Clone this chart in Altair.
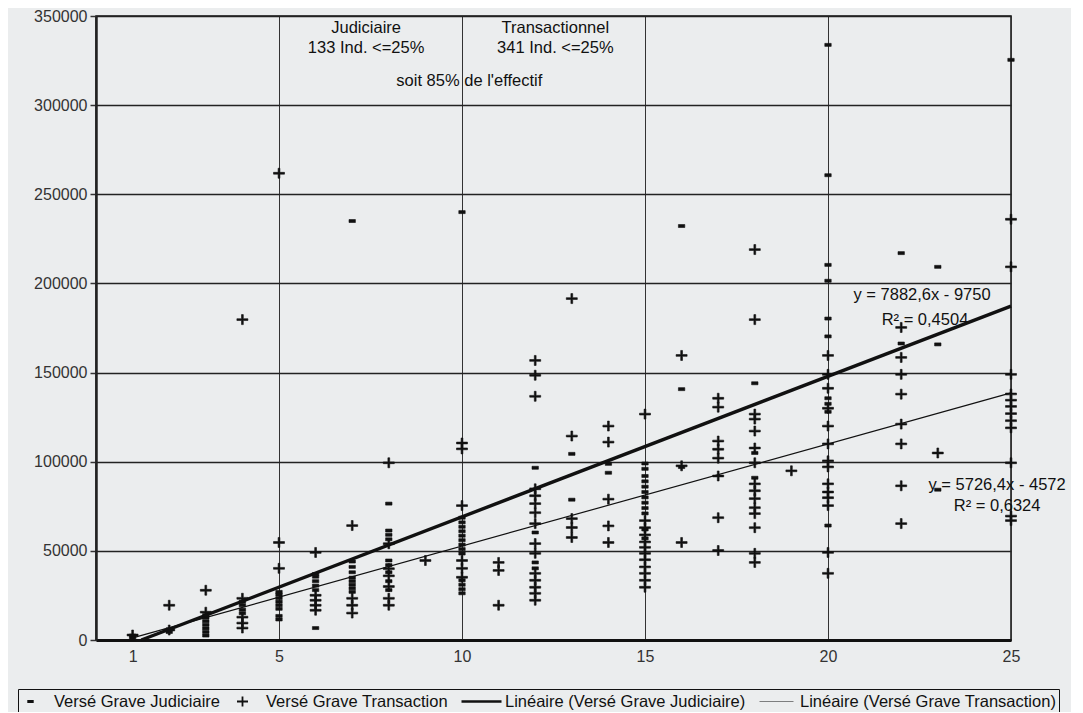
import altair as alt
import pandas as pd

FONT = "Liberation Sans"

SER_J = "Versé Grave Judiciaire"
SER_T = "Versé Grave Transaction"
LIN_J = "Linéaire (Versé Grave Judiciaire)"
LIN_T = "Linéaire (Versé Grave Transaction)"
series_names = [SER_J, SER_T, LIN_J, LIN_T]

# Versé Grave Judiciaire : taux (x) -> montants versés (y)
judiciaire = {
    1: [1000, 2500],
    2: [4500, 6000],
    3: [2500, 4500, 6500, 8500, 10500, 12500, 14000],
    4: [15000, 17000, 19500, 21500],
    5: [11500, 13500, 17500, 19500, 21500, 23500, 25500, 27000],
    6: [6700, 28000, 30500, 33000, 35500, 37000],
    7: [27000, 29000, 31000, 33000, 35000, 38000, 41000, 44000, 235000],
    8: [28000, 33000, 38000, 42000, 44600, 56500, 59000, 61400, 76500],
    10: [26200, 28500, 31000, 33500, 48500, 51000, 53500, 56000, 58500,
         61000, 63500, 66000, 68600, 240000],
    12: [40200, 43500, 60300, 96600],
    13: [78700, 104400],
    14: [93800, 98800],
    15: [57000, 62000, 71000, 74000, 77000, 80000, 83000, 86000, 89000,
         92000, 96000, 99000],
    16: [97000, 140700, 232200],
    18: [91000, 104900, 144000],
    20: [64200, 128000, 132500, 135600, 170300, 180300, 201500, 210400,
         260700, 333800],
    22: [166300, 217000],
    23: [84300, 165800, 209300],
    25: [325400],
}

# Versé Grave Transaction
transaction = {
    1: [2800],
    2: [5600, 19500],
    3: [15600, 27900],
    4: [6700, 9500, 12800, 23400, 179700],
    5: [40200, 54700, 261800],
    6: [16700, 19500, 22300, 25100, 49100],
    7: [15100, 19500, 23400, 64200],
    8: [19500, 23400, 30000, 36000, 40000, 54000, 99400],
    9: [44600],
    10: [35200, 40200, 44600, 75400, 107200, 110500],
    11: [19500, 39000, 43500],
    12: [22300, 26200, 29600, 33500, 37400, 48600, 54100, 65300, 71400,
         76500, 80900, 84800, 136700, 148500, 156800],
    13: [57500, 63100, 68100, 114400, 191500],
    14: [54700, 64000, 79000, 111000, 120000],
    15: [29600, 33500, 37400, 41000, 45000, 48600, 52000, 55000, 59000,
         63000, 67000, 126700],
    16: [54700, 97700, 159600],
    17: [50200, 68600, 92000, 102000, 107000, 111600, 130600, 135600],
    18: [43500, 48600, 63000, 70900, 74200, 79300, 83700, 87600, 99400,
         107700, 117200, 123900, 126700, 179700, 219000],
    19: [94900],
    20: [37400, 49100, 75400, 79800, 83000, 87600, 97100, 100500, 110000,
         120000, 130000, 141200, 149000, 159600],
    22: [65300, 86500, 110000, 121100, 137900, 149000, 158500, 175300],
    23: [104900],
    25: [67000, 69500, 99400, 119000, 123000, 127000, 131000, 134500,
         138000, 149000, 209300, 236000],
}

# Droites de régression (équations affichées sur le graphique)
reg_series = [LIN_J, LIN_T]
reg_slope = [7882.6, 5726.4]
reg_intercept = [-9750.0, -4572.0]
reg_x_end = 25.0

# Annotations
ann_text = ["Judiciaire", "133 Ind.  <=25%", "Transactionnel", "341 Ind.  <=25%",
            "soit 85% de l'effectif",
            "y = 7882,6x - 9750", "R² = 0,4504",
            "y = 5726,4x - 4572", "R² = 0,6324"]
ann_x = [7.38, 7.38, 12.55, 12.55, 10.2, 22.57, 22.65, 24.62, 24.62]
ann_y = [343300, 332200, 343300, 332200, 313700, 193700, 179700, 87100, 75400]

# ---------- tables ----------
rows = []
for x, ys in judiciaire.items():
    for y in ys:
        rows.append({"x": x, "y": y, "series": SER_J})
for x, ys in transaction.items():
    for y in ys:
        rows.append({"x": x, "y": y, "series": SER_T})
points = pd.DataFrame(rows)

line_rows = []
for name, a, b, w in zip(reg_series, reg_slope, reg_intercept, [3.4, 1.2]):
    x0 = max(1.0, -b / a)
    for xv in (x0, reg_x_end):
        line_rows.append({"x": xv, "y": a * xv + b, "series": name, "sw": w})
lines = pd.DataFrame(line_rows)

ann = pd.DataFrame({"text": ann_text, "x": ann_x, "y": ann_y})

# ---------- scales / axes ----------
W, H = 915, 624
xscale = alt.Scale(domain=[0, 25], nice=False, zero=False)
yscale = alt.Scale(domain=[0, 350000], nice=False)

xaxis = alt.Axis(
    values=[1, 5, 10, 15, 20, 25], title=None, ticks=False,
    labelFont=FONT, labelFontSize=16, labelColor="#333", labelPadding=8,
    labelFlush=False, domainColor="#111", domainWidth=3,
    grid=True, gridWidth=1,
    gridColor={"condition": {"test": "datum.value == 1", "value": "transparent"},
               "value": "#333"},
)
yaxis = alt.Axis(
    values=list(range(0, 350001, 50000)), format="d", title=None,
    labelFont=FONT, labelFontSize=16, labelColor="#333", labelPadding=3,
    labelFlush=False, tickSize=6, tickColor="#333", tickWidth=1.5,
    domainColor="#222", domainWidth=2.5,
    grid=True, gridColor="#222", gridWidth=1.5,
)

# filled symbol paths (unit box scaled by sqrt(size)/2 = 10 px)
DASH = "M-0.32,-0.15H0.32V0.15H-0.32Z"
CROSS = ("M-0.55,-0.09H-0.09V-0.5H0.09V-0.09H0.55V0.09H0.09V0.5"
         "H-0.09V0.09H-0.55Z")
THICK = "M-2,-0.12H2V0.12H-2Z"
THIN = "M-1.7,-0.03H1.7V0.03H-1.7Z"
SYM_SIZE = 400

legend = alt.Legend(
    title=None, orient="none", legendX=-78, legendY=673,
    direction="horizontal", columns=4,
    strokeColor="#111", padding=2,
    labelFont=FONT, labelFontSize=16.5, labelColor="#111", labelLimit=0,
    labelOffset=13, columnPadding=12,
    symbolSize=SYM_SIZE, symbolStrokeColor="#111", symbolFillColor="#111",
    symbolStrokeWidth=0.6,
)

pts = alt.Chart(points).mark_point(
    filled=True, fill="#111", stroke="#111", strokeWidth=0.6, opacity=1,
    size=SYM_SIZE
).encode(
    x=alt.X("x:Q", scale=xscale, axis=xaxis),
    y=alt.Y("y:Q", scale=yscale, axis=yaxis),
    shape=alt.Shape("series:N", scale=alt.Scale(domain=series_names,
                    range=[DASH, CROSS, THICK, THIN]), legend=legend),
)

lns = alt.Chart(lines).mark_line(color="#111").encode(
    x=alt.X("x:Q", scale=xscale),
    y=alt.Y("y:Q", scale=yscale),
    detail="series:N",
    strokeWidth=alt.StrokeWidth("sw:Q", scale=None),
)

txt = alt.Chart(ann).mark_text(
    font=FONT, fontSize=16.5, color="#111", align="center", baseline="middle"
).encode(
    x=alt.X("x:Q", scale=xscale),
    y=alt.Y("y:Q", scale=yscale),
    text="text:N",
)

chart = alt.layer(lns, pts, txt).properties(
    width=W, height=H,
    background="#ebedee",
    padding={"left": 88, "top": 8, "right": 60, "bottom": 72},
    autosize=alt.AutoSizeParams(type="none"),
).configure_view(stroke="#111", strokeWidth=1.5)

chart.save("out.html", embed_options={"renderer": "svg", "actions": False})
